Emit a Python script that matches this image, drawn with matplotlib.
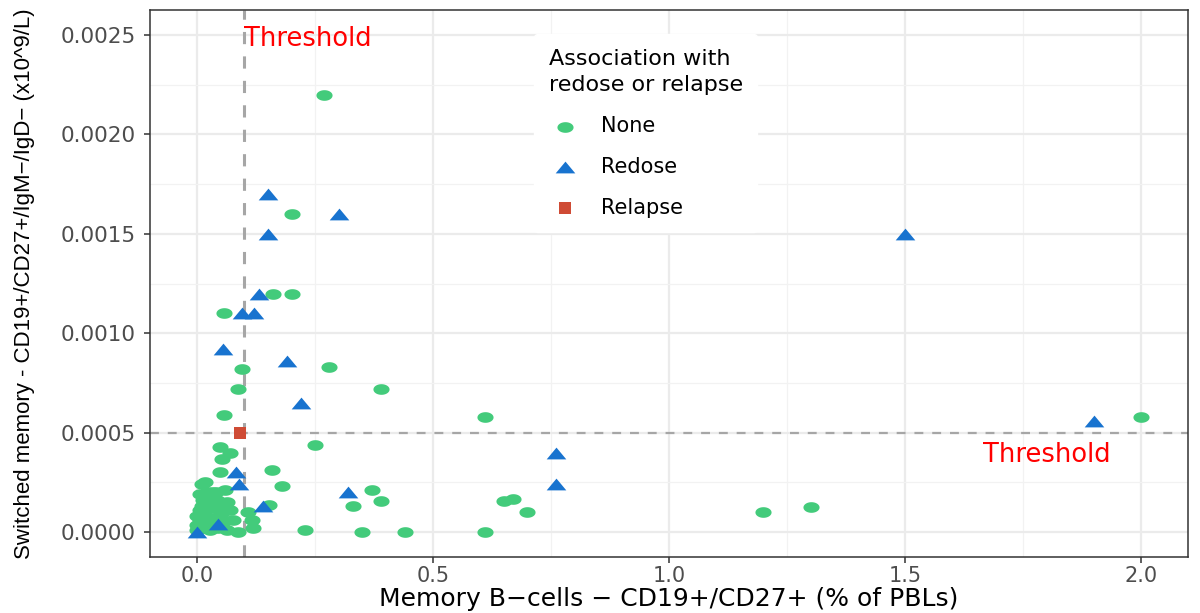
import numpy as np
import matplotlib
matplotlib.use('Agg')
import matplotlib.pyplot as plt
from matplotlib.path import Path
from matplotlib.ticker import MultipleLocator

# Memory B-cells (% of PBLs) vs switched memory (x10^9/L)
none_x = [0.269, 0.20, 0.16, 0.20, 0.057, 0.095, 0.28, 0.087, 0.39, 0.057,
          0.61, 2.0, 0.25, 0.049, 0.053, 0.07, 0.049, 0.159, 0.18, 0.017,
          0.021, 0.013, 0.042, 0.064, 0.006, 0.034, 0.07, 0.006, 0.034, 0.076,
          0.0, 0.028, 0.064, 0.108, 0.117, 0.119, 0.087, 0.0, 0.01, 0.02,
          0.015, 0.03, 0.045, 0.05, 0.055, 0.01, 0.025, 0.005, 0.03, 0.04,
          0.06, 0.01, 0.153, 0.229, 0.37, 0.33, 0.39, 0.35, 0.44, 0.61,
          0.65, 0.67, 0.70, 1.2, 1.3, 0.032, 0.045, 0.0, 0.015, 0.05]
none_y = [0.0022, 0.0016, 0.0012, 0.0012, 0.0011, 0.00082, 0.00083, 0.00072, 0.00072, 0.00059,
          0.00058, 0.00058, 0.00044, 0.00043, 0.00037, 0.0004, 0.0003, 0.00031, 0.00023, 0.00025,
          0.0002, 0.00016, 0.00016, 0.00015, 0.00011, 0.00012, 0.00011, 0.00006, 0.00007, 0.00006,
          0.00001, 0.00001, 0.00001, 0.0001, 0.00006, 0.00002, 0.0, 0.000035, 0.00003, 0.00005,
          0.00009, 0.00004, 0.00002, 0.00009, 0.00005, 0.00013, 0.00014, 0.00019, 0.00018, 0.0002,
          0.00021, 0.00024, 0.000136, 0.00001, 0.00021, 0.00013, 0.000156, 0.0, 0.0, 0.0,
          0.000156, 0.000166, 0.0001, 0.0001, 0.000126, 0.0002, 0.00012, 0.00008, 0.00002, 0.00013]

redose_x = [0.15, 0.30, 0.15, 1.5, 0.13, 0.095, 0.12, 0.055, 0.19, 0.22,
            1.9, 0.76, 0.76, 0.083, 0.089, 0.32, 0.14, 0.045, 0.0]
redose_y = [0.0017, 0.0016, 0.0015, 0.0015, 0.0012, 0.0011, 0.0011, 0.00092, 0.00086, 0.00065,
            0.00056, 0.0004, 0.00024, 0.0003, 0.00024, 0.0002, 0.00013, 0.00004, 0.0]

relapse_x = [0.09]
relapse_y = [0.0005]

x_threshold = 0.1
y_threshold = 0.0005

green = '#43CB7B'
blue = '#1873CF'
red = '#CF4B35'

# flattened marker shapes (the reference is stretched horizontally)
t = np.linspace(0, 2 * np.pi, 60)
ellipse = Path(np.column_stack([np.cos(t), 0.66 * np.sin(t)]), closed=True)
triangle = Path([(-1, -0.6), (1, -0.6), (0, 0.6), (-1, -0.6)], closed=True)
square = Path([(-1, -1), (1, -1), (1, 1), (-1, 1), (-1, -1)], closed=True)

plt.rcParams['font.family'] = ['DejaVu Sans']

fig = plt.figure(figsize=(12, 6.13), dpi=100)
ax = fig.add_axes([0.125, 0.0914, 0.865, 0.892])

ax.set_xlim(-0.1, 2.1)
ax.set_ylim(-0.000125, 0.002625)
ax.xaxis.set_major_locator(MultipleLocator(0.5))
ax.xaxis.set_minor_locator(MultipleLocator(0.25))
ax.yaxis.set_major_locator(MultipleLocator(0.0005))
ax.yaxis.set_minor_locator(MultipleLocator(0.00025))
ax.grid(which='major', color='#EBEBEB', linewidth=1.6, zorder=0)
ax.grid(which='minor', color='#F2F2F2', linewidth=0.9, zorder=0)
ax.set_axisbelow(True)
ax.tick_params(which='minor', length=0)
ax.tick_params(which='major', length=4.5, width=1.1, color='#333333', labelcolor='#4D4D4D')
ax.tick_params(axis='x', pad=2, labelsize=15)
ax.tick_params(axis='y', pad=6, labelsize=15.5)
ax.yaxis.set_major_formatter(plt.FuncFormatter(lambda v, p: f'{v:.4f}'))
ax.xaxis.set_major_formatter(plt.FuncFormatter(lambda v, p: f'{v:.1f}'))
for s in ax.spines.values():
    s.set_color('#333333')
    s.set_linewidth(1.1)

ax.axvline(x_threshold, color='#A6A6A6', linestyle=(0, (4, 4)), linewidth=2.2, zorder=1)
ax.axhline(y_threshold, color='#A6A6A6', linestyle=(0, (4, 4)), linewidth=1.6, zorder=1)

ax.scatter(none_x, none_y, marker=ellipse, s=135, color=green, linewidths=0, label='None', zorder=3)
ax.scatter(redose_x, redose_y, marker=triangle, s=200, color=blue, linewidths=0, label='Redose', zorder=4)
ax.scatter(relapse_x, relapse_y, marker=square, s=64, color=red, linewidths=0, label='Relapse', zorder=5)

ax.text(x_threshold, 0.00248, 'Threshold', color='red', fontsize=18.5, ha='left', va='center')
ax.text(1.8, 0.00039, 'Threshold', color='red', fontsize=18.5, ha='center', va='center')

ax.set_xlabel('Memory B\u2212cells \u2212 CD19+/CD27+ (% of PBLs)', fontsize=18)
ax.xaxis.set_label_coords(0.5, -0.076)
ax.xaxis.label.set_va('center')
ax.set_ylabel('Switched memory - CD19+/CD27+/IgM\u2212/IgD\u2212 (x10^9/L)', fontsize=16,
              family=['Liberation Sans', 'DejaVu Sans'])
ax.yaxis.set_label_coords(-0.111, 0.5)

leg = ax.legend(title='Association with\nredose or relapse', loc='upper left',
                bbox_to_anchor=(0.36, 0.975), frameon=True, fontsize=15, title_fontsize=16,
                labelspacing=1.0, handletextpad=0.9, borderpad=0.7, handlelength=1.6)
leg._legend_box.align = 'left'
leg.get_title().set_linespacing(1.4)
leg.get_frame().set_edgecolor('white')
leg.get_frame().set_facecolor('white')
leg.get_frame().set_alpha(1)

fig.savefig('out.png', dpi=100)
